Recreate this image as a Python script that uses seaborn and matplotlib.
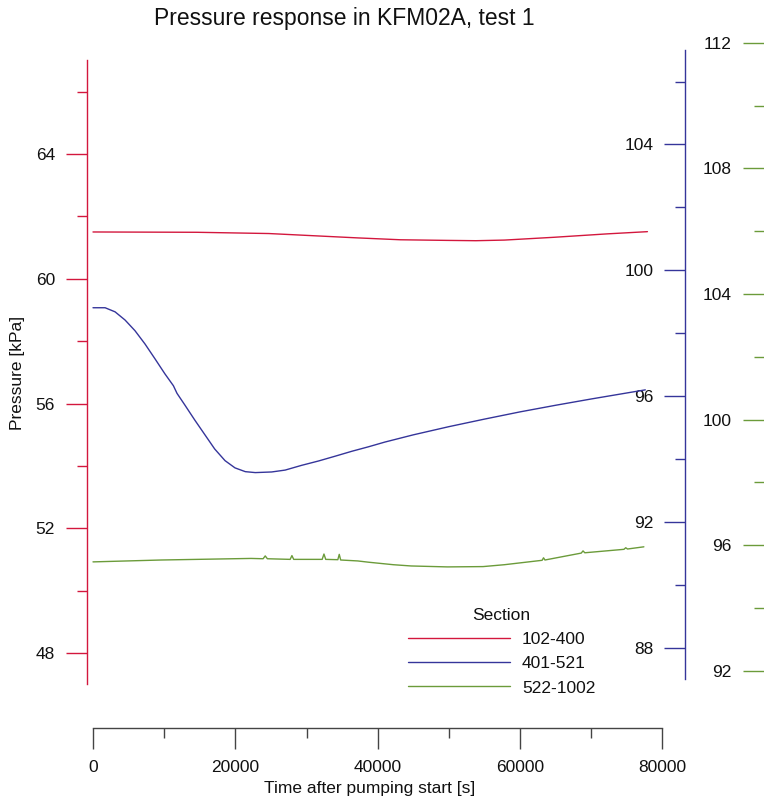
import matplotlib
matplotlib.use("Agg")
import matplotlib.pyplot as plt
import seaborn as sns
from matplotlib.ticker import FixedLocator

# ---------------- data ----------------
red_t = [0, 14600, 24700, 37200, 43200, 49800, 53800, 57800, 64800, 72300, 77900]
red_p = [61.50, 61.49, 61.45, 61.31, 61.25, 61.23, 61.22, 61.24, 61.33, 61.44, 61.51]

blue_t = [0, 1700, 3100, 4500, 5900, 7300, 8700, 10100, 11300, 11800, 12900, 14300,
          15700, 17100, 18550, 19950, 21400, 22800, 25100, 27000, 29300, 31700, 34000,
          36400, 38700, 41000, 45000, 50000, 55000, 60000, 65000, 70000, 77600]
blue_p = [98.81, 98.81, 98.68, 98.42, 98.08, 97.66, 97.19, 96.71, 96.33, 96.09, 95.72, 95.24,
          94.78, 94.32, 93.95, 93.72, 93.60, 93.57, 93.59, 93.65, 93.80, 93.94, 94.09,
          94.25, 94.39, 94.54, 94.77, 95.03, 95.27, 95.50, 95.71, 95.91, 96.20]

green_t = [0, 9600, 22200, 23900, 24200, 24500, 27700, 27950, 28200, 32200, 32450, 32700,
           34400, 34600, 34800, 37200, 38700, 42200, 44700, 49800, 54800, 57800, 63100,
           63300, 63500, 68600, 68850, 69100, 74600, 74850, 75100, 77400]
green_p = [95.47, 95.53, 95.58, 95.57, 95.66, 95.57, 95.55, 95.67, 95.55, 95.55, 95.72, 95.55,
           95.54, 95.71, 95.53, 95.50, 95.46, 95.38, 95.34, 95.31, 95.32, 95.38, 95.52,
           95.60, 95.53, 95.75, 95.82, 95.76, 95.87, 95.92, 95.88, 95.95]

series_labels = ["102-400", "401-521", "522-1002"]
legend_title = "Section"
title = "Pressure response in KFM02A, test 1"
xlabel = "Time after pumping start [s]"
ylabel = "Pressure [kPa]"

x_major = [0, 20000, 40000, 60000, 80000]
x_minor = [10000, 30000, 50000, 70000]
red_major = [48, 52, 56, 60, 64]
red_minor = [50, 54, 58, 62, 66]
blue_major = [88, 92, 96, 100, 104]
blue_minor = [90, 94, 98, 102, 106]
green_major = [92, 96, 100, 104, 108, 112]
green_minor = [94, 98, 102, 106, 110]

# ---------------- style ----------------
sns.set_theme(style="white")
plt.rcParams["font.family"] = ["Liberation Sans", "DejaVu Sans"]

RED = "#D3173D"
BLUE = "#35359A"
GREEN = "#6B9B3A"
AXC = "#444444"
FS = 12.5

W, H = 764, 801
fig = plt.figure(figsize=(W / 100, H / 100), dpi=100)
ax = fig.add_axes([87 / W, 1 - 690 / H, 598.3 / W, 650 / H])
ax_b = ax.twinx()
ax_g = ax.twinx()

sns.lineplot(x=red_t, y=red_p, ax=ax, color=RED, linewidth=1.0, legend=False)
sns.lineplot(x=blue_t, y=blue_p, ax=ax_b, color=BLUE, linewidth=1.0, legend=False)
sns.lineplot(x=green_t, y=green_p, ax=ax_g, color=GREEN, linewidth=1.0, legend=False)

ax.set_xlim(-843, 83220)
ax.set_ylim(46.815, 67.655)
ax_b.set_ylim(86.66, 107.32)
ax_g.set_ylim(91.39, 112.09)

for a in (ax, ax_b, ax_g):
    a.set_xlabel("")
    a.set_ylabel("")
    a.patch.set_visible(False)
    for s in ("top", "right", "bottom"):
        a.spines[s].set_visible(False)

# bottom x axis (detached)
ax.spines["bottom"].set_visible(True)
ax.spines["bottom"].set_position(("outward", 27.2))
ax.spines["bottom"].set_bounds(0, 80000)
ax.spines["bottom"].set_color(AXC)
ax.spines["bottom"].set_linewidth(1.0)
ax.xaxis.set_major_locator(FixedLocator(x_major))
ax.xaxis.set_minor_locator(FixedLocator(x_minor))
ax.set_xticklabels([str(v) for v in x_major])
ax.tick_params(axis="x", which="both", bottom=True, direction="out", color=AXC,
               width=1.0, labelsize=FS, labelcolor="#111111", pad=8)
ax.tick_params(axis="x", which="major", length=15)
ax.tick_params(axis="x", which="minor", length=7.5)


def style_y(a, color, major, minor, bounds, pos, spine_visible=True):
    a.yaxis.tick_left()
    a.yaxis.set_label_position("left")
    sp = a.spines["left"]
    sp.set_position(pos)
    sp.set_visible(spine_visible)
    sp.set_color(color)
    sp.set_linewidth(1.0)
    if bounds is not None:
        sp.set_bounds(*bounds)
    a.yaxis.set_major_locator(FixedLocator(major))
    a.yaxis.set_minor_locator(FixedLocator(minor))
    a.set_yticklabels([str(v) for v in major])
    a.tick_params(axis="y", which="both", left=True, right=False, direction="out",
                  color=color, width=1.0, labelsize=FS, labelcolor="#111111", pad=8)
    a.tick_params(axis="y", which="major", length=15)
    a.tick_params(axis="y", which="minor", length=7.5)


style_y(ax, RED, red_major, red_minor, (47, 67), ("axes", 0.0))
style_y(ax_b, BLUE, blue_major, blue_minor, (87, 107), ("axes", 1.0))
style_y(ax_g, GREEN, green_major, green_minor, None, ("axes", (763.5 - 87) / 598.3),
        spine_visible=False)

# texts
fig.text(344 / W, 1 - 18 / H, title, ha="center", va="center", fontsize=16.5, color="#111111")
fig.text(370 / W, 1 - 788 / H, xlabel, ha="center", va="center", fontsize=FS, color="#111111")
fig.text(18 / W, 1 - 373 / H, ylabel, ha="center", va="center", rotation=90,
         fontsize=FS, color="#111111")

handles = [ax.lines[0], ax_b.lines[0], ax_g.lines[0]]
leg = ax_g.legend(handles, series_labels, title=legend_title, loc="upper left",
                  bbox_to_anchor=(408 / W, 1 - 608 / H), bbox_transform=fig.transFigure,
                  frameon=False, fontsize=FS, title_fontsize=FS, handlelength=5.9,
                  handletextpad=0.66, labelspacing=0.52, borderpad=0, borderaxespad=0)
for t in leg.get_texts():
    t.set_color("#111111")
leg.get_title().set_color("#111111")

fig.savefig("out.png", dpi=100)
